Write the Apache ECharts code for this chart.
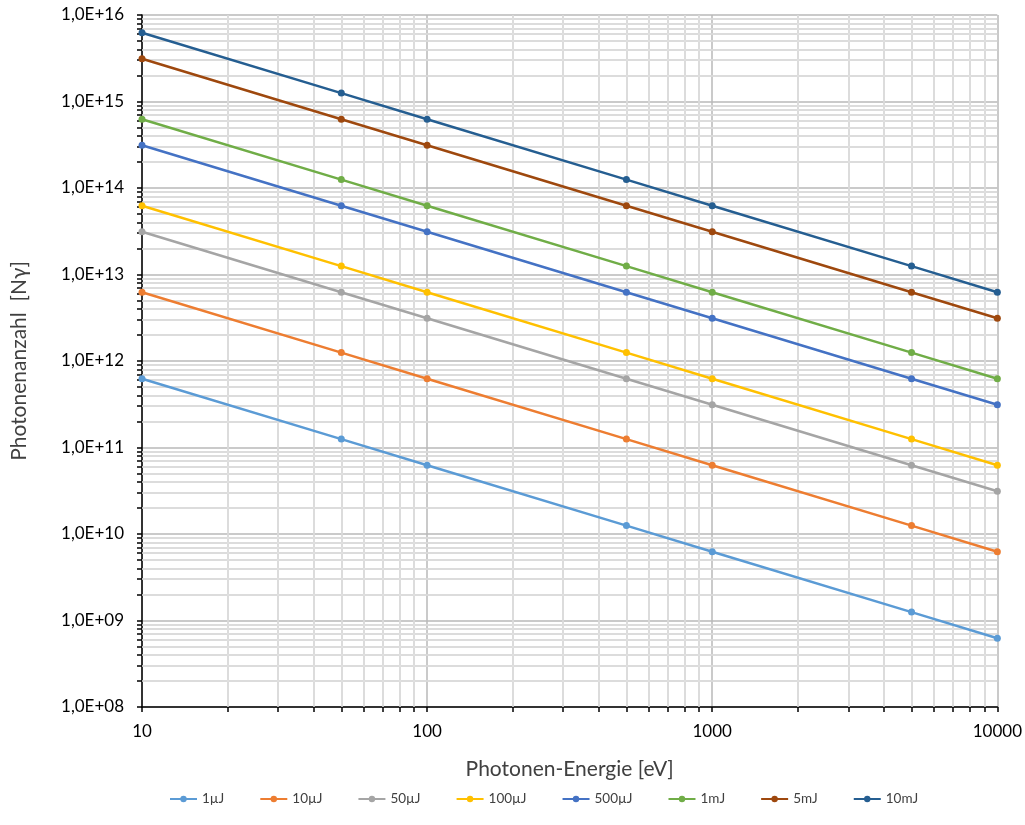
<!DOCTYPE html>
<html>
<head>
<meta charset="utf-8">
<script src="https://cdn.jsdelivr.net/npm/echarts@6/dist/echarts.min.js"></script>
<style>
  html, body { margin: 0; padding: 0; background: #fff; }
  #chart { width: 1025px; height: 825px; }
</style>
</head>
<body>
<div id="chart"></div>
<script>
// Photon energies [eV]
const energies = [10, 50, 100, 500, 1000, 5000, 10000];

// Photon counts per pulse energy
const seriesNames = ['1µJ', '10µJ', '50µJ', '100µJ', '500µJ', '1mJ', '5mJ', '10mJ'];
const n1uJ   = [6.24e11, 1.25e11, 6.24e10, 1.25e10, 6.24e9, 1.25e9, 6.24e8];
const n10uJ  = [6.24e12, 1.25e12, 6.24e11, 1.25e11, 6.24e10, 1.25e10, 6.24e9];
const n50uJ  = [3.12e13, 6.24e12, 3.12e12, 6.24e11, 3.12e11, 6.24e10, 3.12e10];
const n100uJ = [6.24e13, 1.25e13, 6.24e12, 1.25e12, 6.24e11, 1.25e11, 6.24e10];
const n500uJ = [3.12e14, 6.24e13, 3.12e13, 6.24e12, 3.12e12, 6.24e11, 3.12e11];
const n1mJ   = [6.24e14, 1.25e14, 6.24e13, 1.25e13, 6.24e12, 1.25e12, 6.24e11];
const n5mJ   = [3.12e15, 6.24e14, 3.12e14, 6.24e13, 3.12e13, 6.24e12, 3.12e12];
const n10mJ  = [6.24e15, 1.25e15, 6.24e14, 1.25e14, 6.24e13, 1.25e13, 6.24e12];
const seriesValues = [n1uJ, n10uJ, n50uJ, n100uJ, n500uJ, n1mJ, n5mJ, n10mJ];

const colors = ['#5B9BD5', '#ED7D31', '#A5A5A5', '#FFC000', '#4472C4', '#70AD47', '#9E480E', '#255E91'];

// Axis ranges (decades)
const xMinExp = 1, xMaxExp = 4;
const yMinExp = 8, yMaxExp = 16;

// Values 1..9 × 10^n within the given decades
function decadeSteps(minExp, maxExp, withMajor) {
  const out = [];
  for (let e = minExp; e < maxExp; e++) {
    for (let m = withMajor ? 1 : 2; m <= 9; m++) out.push(m * Math.pow(10, e));
  }
  if (withMajor) out.push(Math.pow(10, maxExp));
  return out;
}
const xMinor = decadeSteps(xMinExp, xMaxExp, false);
const yMinor = decadeSteps(yMinExp, yMaxExp, false);
const xAllTicks = decadeSteps(xMinExp, xMaxExp, true);
const yAllTicks = decadeSteps(yMinExp, yMaxExp, true);

const FONT = 'Lato';

const series = seriesNames.map((name, i) => ({
  name: name,
  type: 'line',
  z: 3,
  data: energies.map((e, j) => [e, seriesValues[i][j]]),
  symbol: 'circle',
  symbolSize: 7,
  lineStyle: { width: 2.5, color: colors[i] },
  itemStyle: { color: colors[i] },
  emphasis: { disabled: true }
}));

// Minor grid lines at 2..9 of every decade
series.unshift({
  name: 'minorGrid',
  type: 'line',
  z: 1,
  silent: true,
  data: [],
  symbol: 'none',
  markLine: {
    z: 1,
    silent: true,
    symbol: 'none',
    animation: false,
    label: { show: false },
    lineStyle: { color: '#e2e2e2', width: 1.5, type: 'solid' },
    data: xMinor.map(v => ({ xAxis: v })).concat(yMinor.map(v => ({ yAxis: v })))
  }
});

const chart = echarts.init(document.getElementById('chart'), null, { renderer: 'canvas' });
chart.setOption({
  animation: false,
  backgroundColor: '#fff',
  color: colors,
  textStyle: { fontFamily: FONT },
  grid: { left: 142, right: 26, top: 15, bottom: 118, containLabel: false },
  legend: {
    data: seriesNames,
    left: 164,
    bottom: 14,
    itemWidth: 27,
    itemHeight: 8,
    itemGap: 35,
    textStyle: { fontFamily: FONT, fontSize: 13.5, color: '#404040' }
  },
  xAxis: {
    type: 'log',
    logBase: 10,
    min: Math.pow(10, xMinExp),
    max: Math.pow(10, xMaxExp),
    interval: 1,
    name: 'Photonen-Energie [eV]',
    nameLocation: 'middle',
    nameGap: 52,
    nameTextStyle: { fontFamily: FONT, fontSize: 21, color: '#404040' },
    axisLine: { show: true, lineStyle: { color: '#000', width: 1.5 } },
    axisTick: { show: true, inside: false, length: 5, customValues: xAllTicks, lineStyle: { color: '#000', width: 1.5 } },
    axisLabel: {
      fontFamily: FONT, fontSize: 17, color: '#000', margin: 16,
      formatter: function (v) { return String(Math.round(v)); }
    },
    splitLine: { show: true, lineStyle: { color: '#b8b8b8', width: 1.5 } },
    minorTick: { show: false },
    minorSplitLine: { show: false }
  },
  yAxis: {
    type: 'log',
    logBase: 10,
    min: Math.pow(10, yMinExp),
    max: Math.pow(10, yMaxExp),
    interval: 1,
    name: 'Photonenanzahl  [Nγ]',
    nameLocation: 'middle',
    nameGap: 112,
    nameTextStyle: { fontFamily: FONT, fontSize: 21, color: '#404040' },
    axisLine: { show: true, lineStyle: { color: '#000', width: 1.5 } },
    axisTick: { show: true, inside: false, length: 5, customValues: yAllTicks, lineStyle: { color: '#000', width: 1.5 } },
    axisLabel: {
      fontFamily: FONT,
      fontSize: 17,
      color: '#000',
      margin: 18,
      formatter: function (v) {
        const e = Math.round(Math.log10(v));
        return '1,0E+' + (e < 10 ? '0' + e : String(e));
      }
    },
    splitLine: { show: true, lineStyle: { color: '#b8b8b8', width: 1.5 } },
    minorTick: { show: false },
    minorSplitLine: { show: false }
  },
  series: series
});
</script>
</body>
</html>
